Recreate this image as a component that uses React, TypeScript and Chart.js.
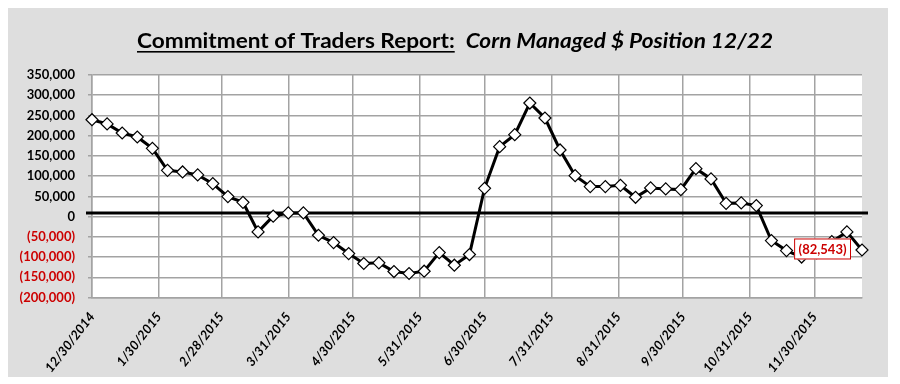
import React, { useEffect, useRef } from 'react';
import { Chart, registerables } from 'chart.js';

Chart.register(...registerables);

// ---- data ----
const REPORT_DATES = [
  '12/30/2014', '1/6/2015', '1/13/2015', '1/20/2015', '1/27/2015', '2/3/2015', '2/10/2015',
  '2/17/2015', '2/24/2015', '3/3/2015', '3/10/2015', '3/17/2015', '3/24/2015', '3/31/2015',
  '4/7/2015', '4/14/2015', '4/21/2015', '4/28/2015', '5/5/2015', '5/12/2015', '5/19/2015',
  '5/26/2015', '6/2/2015', '6/9/2015', '6/16/2015', '6/23/2015', '6/30/2015', '7/7/2015',
  '7/14/2015', '7/21/2015', '7/28/2015', '8/4/2015', '8/11/2015', '8/18/2015', '8/25/2015',
  '9/1/2015', '9/8/2015', '9/15/2015', '9/22/2015', '9/29/2015', '10/6/2015', '10/13/2015',
  '10/20/2015', '10/27/2015', '11/3/2015', '11/10/2015', '11/17/2015', '11/24/2015',
  '12/1/2015', '12/8/2015', '12/15/2015', '12/22/2015',
];

const MANAGED_POSITION = [
  239500, 229000, 206600, 196800, 168700, 114300, 110300,
  103000, 81500, 49400, 35300, -37800, 1000, 9100,
  9100, -46100, -64200, -91400, -116000, -114300, -135800,
  -140700, -135000, -88900, -120200, -93800, 69900, 172800,
  202500, 280700, 243700, 164700, 101200, 74100, 74100,
  77300, 47700, 70900, 68400, 66700, 118500, 93100,
  32800, 33800, 27200, -59300, -84000, -100000, -90000,
  -62000, -37800, -82543,
];

const X_TICK_LABELS = [
  '12/30/2014', '1/30/2015', '2/28/2015', '3/31/2015', '4/30/2015', '5/31/2015',
  '6/30/2015', '7/31/2015', '8/31/2015', '9/30/2015', '10/31/2015', '11/30/2015',
];

const AXIS_START = '12/30/2014';
const AXIS_END = '12/22/2015';
const Y_MIN = -200000;
const Y_MAX = 350000;
const Y_STEP = 50000;
const ZERO_LINE_VALUE = 9000;

const TITLE_MAIN = 'Commitment of Traders Report:';
const TITLE_SUB = 'Corn Managed $ Position 12/22';

// ---- helpers ----
const dayOf = (s: string) => {
  const [m, d, y] = s.split('/').map(Number);
  const base = AXIS_START.split('/').map(Number);
  return (Date.UTC(y, m - 1, d) - Date.UTC(base[2], base[0] - 1, base[1])) / 86400000;
};

const fmtNum = (v: number) => {
  if (v === 0) return '0';
  const s = Math.abs(Math.round(v)).toLocaleString('en-US');
  return v < 0 ? `(${s})` : s;
};

const RED = '#cc0000';
const GRID = '#a3a3a3';
const PANEL_BG = '#dedede';

const tickDays = X_TICK_LABELS.map(dayOf);
const tickLabelByDay: Record<number, string> = {};
X_TICK_LABELS.forEach((l, i) => (tickLabelByDay[tickDays[i]] = l));

const overlayPlugin = {
  id: 'overlay',
  beforeDatasetsDraw(chart: any) {
    const { ctx, chartArea, scales } = chart;
    const y = scales.y.getPixelForValue(ZERO_LINE_VALUE);
    ctx.save();
    ctx.strokeStyle = '#000';
    ctx.lineWidth = 3;
    ctx.beginPath();
    ctx.moveTo(chartArea.left - 6, y);
    ctx.lineTo(chartArea.right + 6, y);
    ctx.stroke();
    ctx.restore();
  },
  afterDatasetsDraw(chart: any) {
    const { ctx } = chart;
    const meta = chart.getDatasetMeta(0);
    const last = meta.data[meta.data.length - 1];
    const lastVal = MANAGED_POSITION[MANAGED_POSITION.length - 1];
    const text = fmtNum(lastVal);
    ctx.save();
    ctx.font = 'bold 13px Lato';
    const tw = ctx.measureText(text).width;
    const bw = tw + 9;
    const bh = 21;
    const right = last.x - 11;
    const left = right - bw;
    const top = last.y - bh / 2 - 1;
    ctx.fillStyle = '#fff';
    ctx.fillRect(left, top, bw, bh);
    ctx.strokeStyle = RED;
    ctx.lineWidth = 1;
    ctx.strokeRect(left + 0.5, top + 0.5, bw - 1, bh - 1);
    ctx.fillStyle = RED;
    ctx.textAlign = 'center';
    ctx.textBaseline = 'middle';
    ctx.fillText(text, left + bw / 2, top + bh / 2 + 1);
    ctx.restore();
  },
  afterDraw(chart: any) {
    const { ctx, chartArea, width, height } = chart;
    // paint under everything: white plot area, gray panel around it
    ctx.save();
    ctx.globalCompositeOperation = 'destination-over';
    ctx.fillStyle = '#ffffff';
    ctx.fillRect(chartArea.left, chartArea.top, chartArea.right - chartArea.left, chartArea.bottom - chartArea.top);
    ctx.fillStyle = PANEL_BG;
    ctx.fillRect(0, 0, width, height);
    ctx.restore();

    ctx.save();
    const size = 20;
    const fontA = `bold ${size}px Lato`;
    const fontB = `italic bold ${size}px Lato`;
    ctx.font = fontA;
    const w1 = ctx.measureText(TITLE_MAIN).width;
    const wg = ctx.measureText('  ').width;
    ctx.font = fontB;
    const w2 = ctx.measureText(TITLE_SUB).width;
    const total = w1 + wg + w2;
    const target = 636;
    const sx = target / total;
    const cx = 447;
    const startX = cx - target / 2;
    const baseline = 40;
    ctx.translate(startX, baseline);
    ctx.scale(sx, 1);
    ctx.fillStyle = '#000';
    ctx.textBaseline = 'alphabetic';
    ctx.textAlign = 'left';
    ctx.font = fontA;
    ctx.fillText(TITLE_MAIN, 0, 0);
    ctx.fillRect(0, 3, w1, 1.6);
    ctx.font = fontB;
    ctx.fillText(TITLE_SUB, w1 + wg, 0);
    ctx.restore();
  },
};

export default function App() {
  const canvasRef = useRef<HTMLCanvasElement | null>(null);

  useEffect(() => {
    if (!canvasRef.current) return;
    const points = REPORT_DATES.map((d, i) => ({ x: dayOf(d), y: MANAGED_POSITION[i] }));
    const chart = new Chart(canvasRef.current, {
      type: 'line',
      data: {
        datasets: [
          {
            data: points,
            borderColor: '#000',
            borderWidth: 3,
            tension: 0,
            pointStyle: 'rectRot',
            pointRadius: 6,
            pointBackgroundColor: '#fff',
            pointBorderColor: '#000',
            pointBorderWidth: 1.2,
            clip: false as any,
          },
        ],
      },
      options: {
        animation: false,
        responsive: false,
        events: [],
        layout: { padding: { left: 0, right: 26, top: 67, bottom: 0 } },
        plugins: {
          legend: { display: false },
          tooltip: { enabled: false },
          title: { display: false },
        },
        scales: {
          x: {
            type: 'linear',
            min: 0,
            max: dayOf(AXIS_END),
            afterBuildTicks: (scale: any) => {
              scale.ticks = tickDays.map((v) => ({ value: v }));
            },
            afterFit: (scale: any) => {
              scale.height = 79.5;
            },
            grid: { color: GRID, lineWidth: 1.5, drawTicks: false },
            border: { display: true, color: GRID, width: 1.5 },
            ticks: {
              autoSkip: false,
              minRotation: 52,
              maxRotation: 52,
              padding: 12,
              color: '#000',
              font: { family: 'Lato', size: 13, weight: 'bold', style: 'italic' },
              callback: (v: any) => tickLabelByDay[v] ?? '',
            },
          },
          y: {
            type: 'linear',
            min: Y_MIN,
            max: Y_MAX,
            afterFit: (scale: any) => {
              scale.width = 84;
            },
            grid: { color: GRID, lineWidth: 1.5, tickLength: 4 },
            border: { display: true, color: GRID, width: 1.5 },
            ticks: {
              stepSize: Y_STEP,
              padding: 13,
              color: (c: any) => (c.tick && c.tick.value < 0 ? RED : '#000'),
              font: { family: 'Lato', size: 13, weight: 'bold' },
              callback: (v: any) => fmtNum(Number(v)),
            },
          },
        },
      },
      plugins: [overlayPlugin],
    });
    return () => chart.destroy();
  }, []);

  return (
    <div style={{ width: 880, height: 369 }}>
      <canvas ref={canvasRef} width={880} height={369} style={{ display: 'block', width: 880, height: 369 }} />
    </div>
  );
}
